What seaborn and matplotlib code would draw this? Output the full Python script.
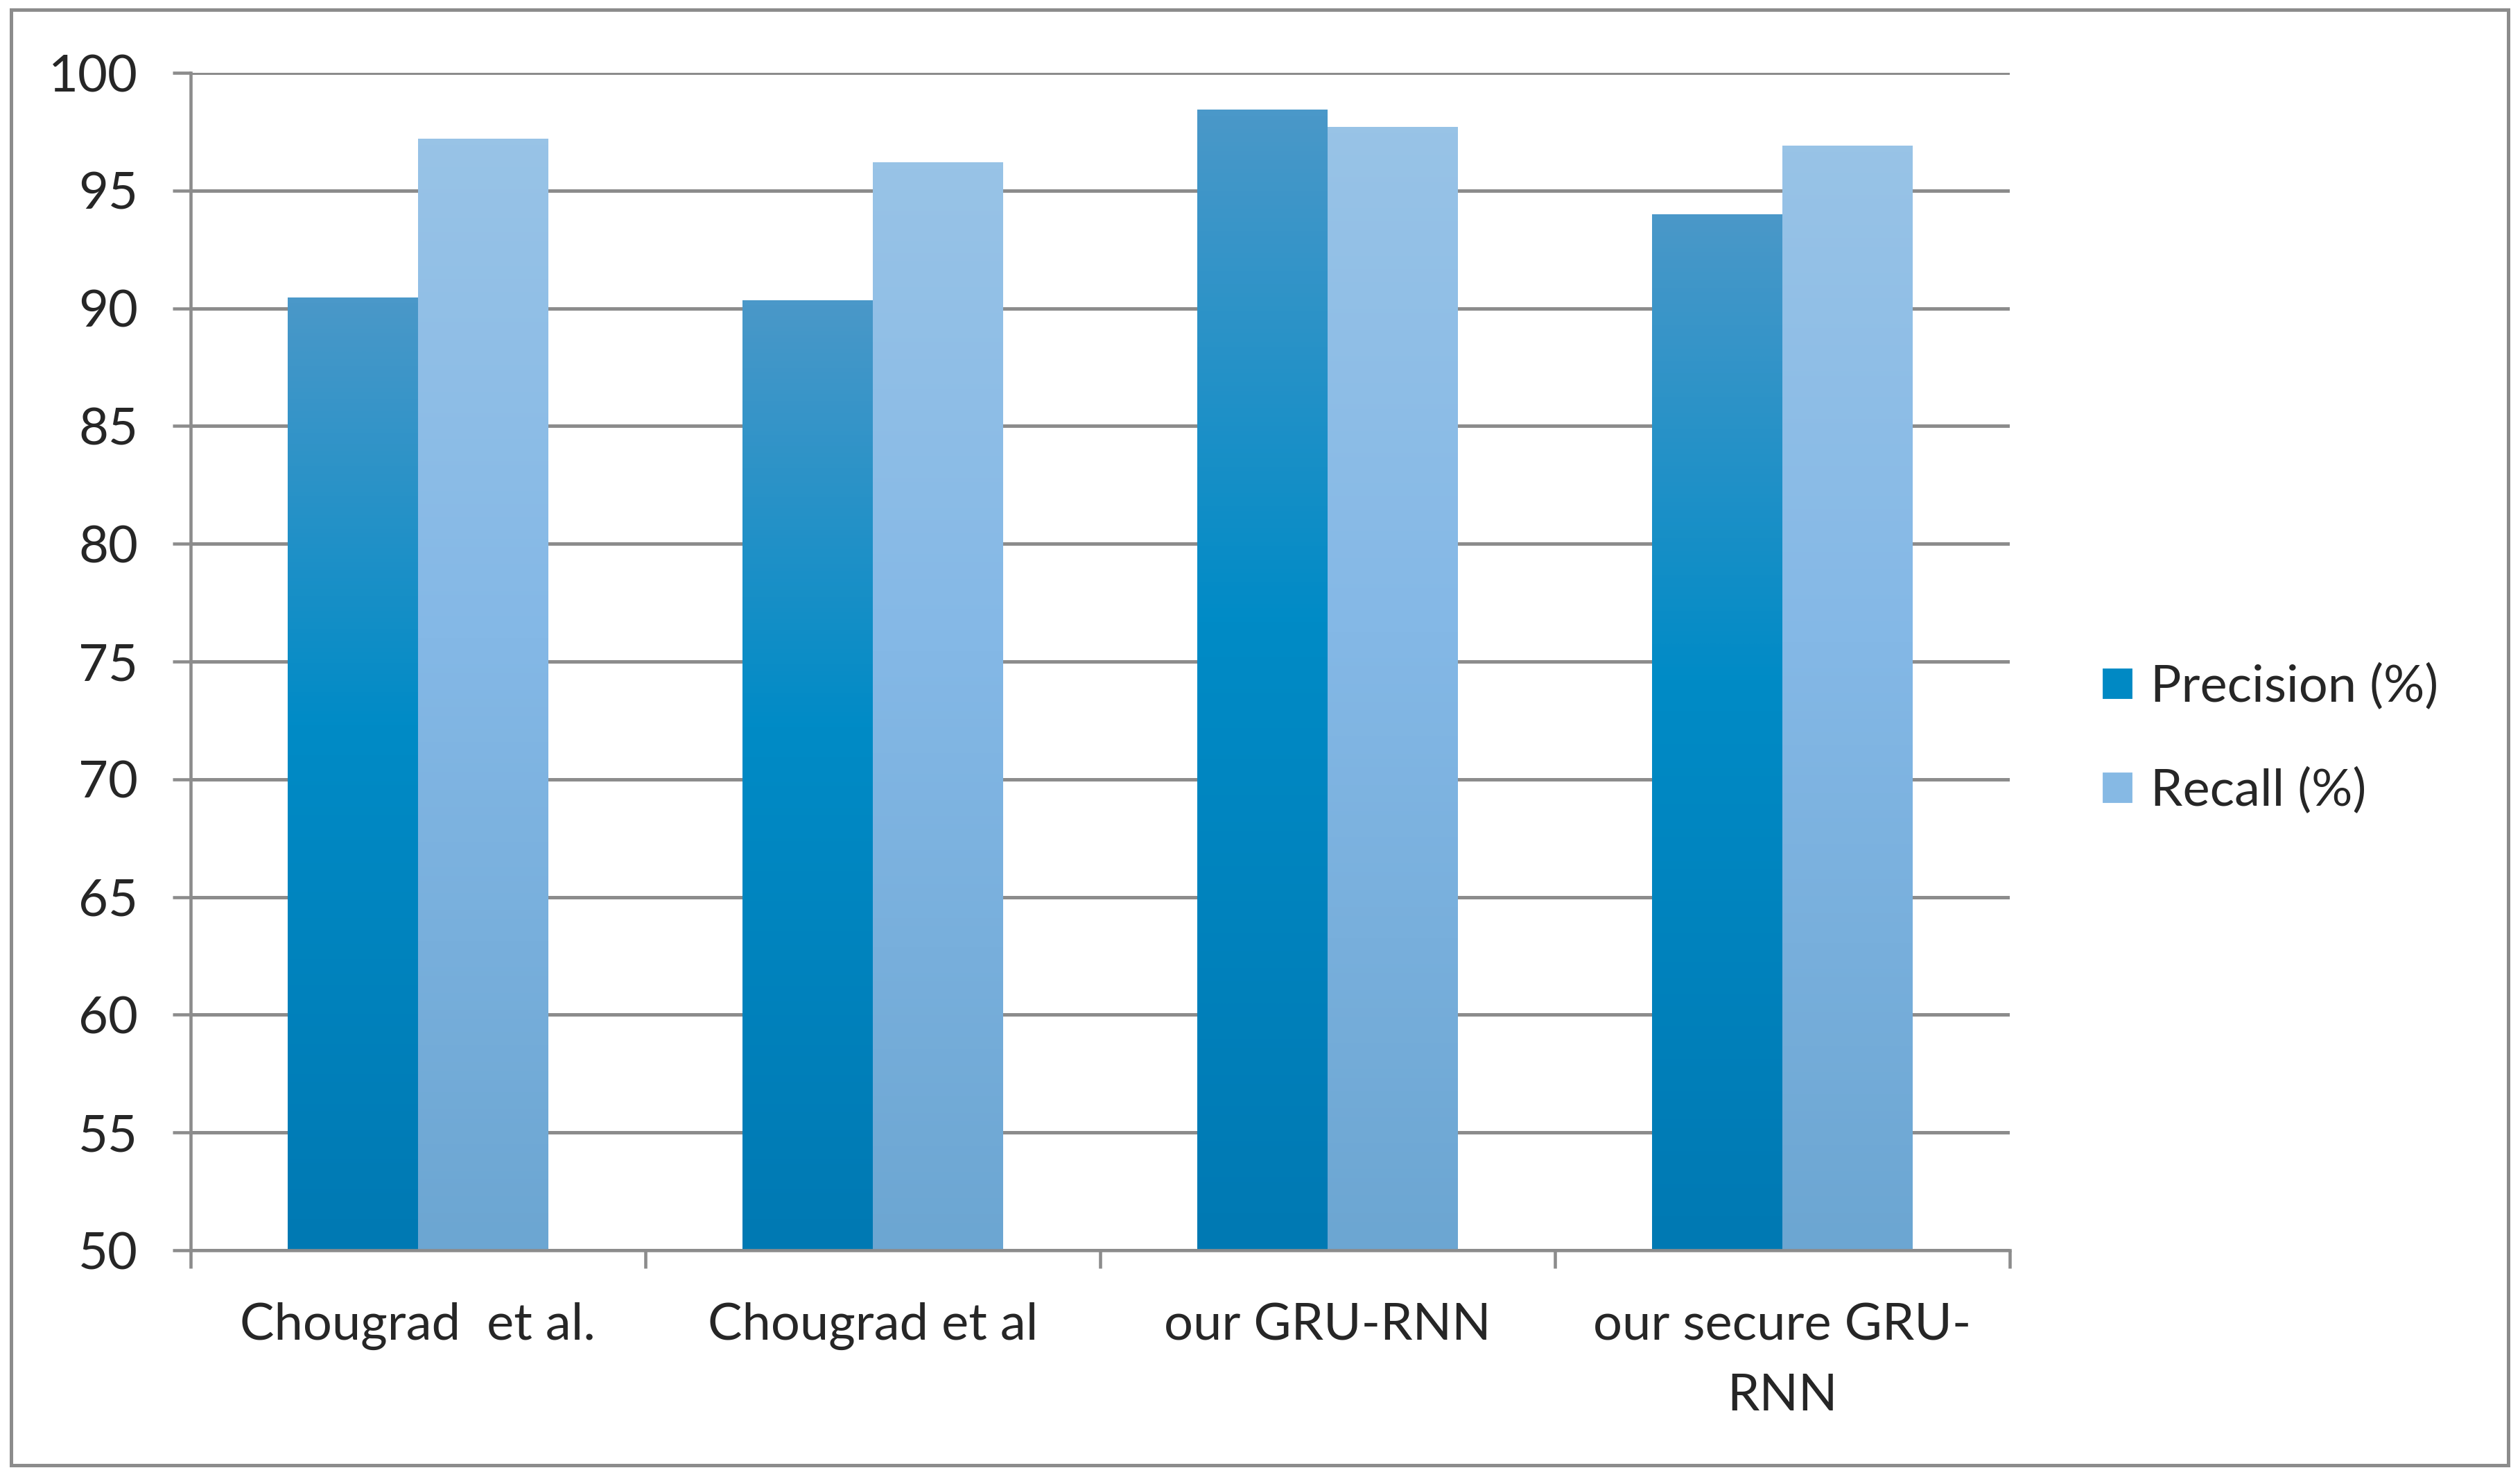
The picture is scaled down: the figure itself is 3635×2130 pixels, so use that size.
import pandas as pd
import matplotlib.pyplot as plt
import seaborn as sns
import numpy as np
from matplotlib.colors import LinearSegmentedColormap
from matplotlib.patches import Rectangle

# ==========================================
# DATA
# ==========================================
methods = ["Chougrad  et al.", "Chougrad et al", "our GRU-RNN", "our secure GRU-\nRNN"]
precision = [90.45, 90.35, 98.45, 94.0]
recall = [97.2, 96.2, 97.7, 96.9]
series_names = ["Precision (%)", "Recall (%)"]

df = pd.DataFrame({
    "Method": methods * 2,
    "Value": precision + recall,
    "Metric": [series_names[0]] * len(methods) + [series_names[1]] * len(methods),
})

# Global visual settings
sns.set_theme(style="white")
plt.rcParams['font.family'] = ['Lato', 'DejaVu Sans']
grey = "#8c8c8c"
fs = 17.8
y_min, y_max = 50, 100

# gradient stops (top, middle, bottom) for each series
grad_prec = ["#4a98c9", "#008bc6", "#0079b3"]
grad_rec = ["#98c3e6", "#84b8e6", "#6ca6d2"]
palette = {series_names[0]: "#0089c4", series_names[1]: "#86b9e4"}

fig = plt.figure(figsize=(12.12, 7.1), dpi=300)
ax = fig.add_axes([0.0756, 0.1535, 0.7217, 0.7972])

sns.barplot(
    data=df,
    x="Method",
    y="Value",
    hue="Metric",
    palette=palette,
    width=0.572,
    saturation=1,
    ax=ax,
    zorder=3,
)

# ---> vertical gradient fill inside each bar (visible part only) <---
grad = np.linspace(0, 1, 256).reshape(-1, 1)
for container, stops in zip(ax.containers, [grad_prec, grad_rec]):
    cmap = LinearSegmentedColormap.from_list("g", [(0, stops[0]), (0.45, stops[1]), (1, stops[2])])
    for bar in container:
        x0, w = bar.get_x(), bar.get_width()
        top = bar.get_y() + bar.get_height()
        im = ax.imshow(grad, cmap=cmap, aspect="auto", extent=[x0, x0 + w, y_min, top],
                       origin="upper", zorder=4, interpolation="bilinear")
        im.set_clip_path(bar)
        bar.set_visible(False)

ax.set_xlim(-0.5, len(methods) - 0.5)
ax.set_ylim(y_min, y_max)
ax.set_yticks(np.arange(y_min, y_max + 1, 5))
ax.yaxis.grid(True, color=grey, linewidth=1.2)
ax.set_axisbelow(True)

ax.set_xlabel("")
ax.set_ylabel("")
ax.tick_params(axis="y", labelsize=fs, length=6.2, width=1.1, color=grey, pad=12, left=True)
ax.tick_params(axis="x", labelsize=fs, length=0, pad=18)
ax.set_xticks(np.arange(-0.5, len(methods), 1), minor=True)
ax.tick_params(axis="x", which="minor", length=6.2, width=1.1, color=grey, bottom=True)
for lab in ax.get_xticklabels():
    lab.set_linespacing(1.65)

for side in ["top", "right"]:
    ax.spines[side].set_visible(False)
for side in ["left", "bottom"]:
    ax.spines[side].set_color(grey)
    ax.spines[side].set_linewidth(1.1)
    ax.spines[side].set_zorder(5)

# legend on the right
handles, labels = ax.get_legend_handles_labels()
ax.legend(handles, labels, loc="center left", bbox_to_anchor=(3031 / 3636, 1 - 1066 / 2130),
          bbox_transform=fig.transFigure, frameon=False, fontsize=fs, borderpad=0,
          borderaxespad=0, handlelength=0.63, handleheight=0.63, handletextpad=0.33,
          labelspacing=1.1)

# outer chart frame
fig.patches.append(Rectangle((16 / 3636, 1 - 2113 / 2130), (3618 - 16) / 3636, (2113 - 14) / 2130,
                             transform=fig.transFigure, fill=False, edgecolor=grey, linewidth=1.2))

plt.savefig("out.png", dpi=300)
plt.close()
